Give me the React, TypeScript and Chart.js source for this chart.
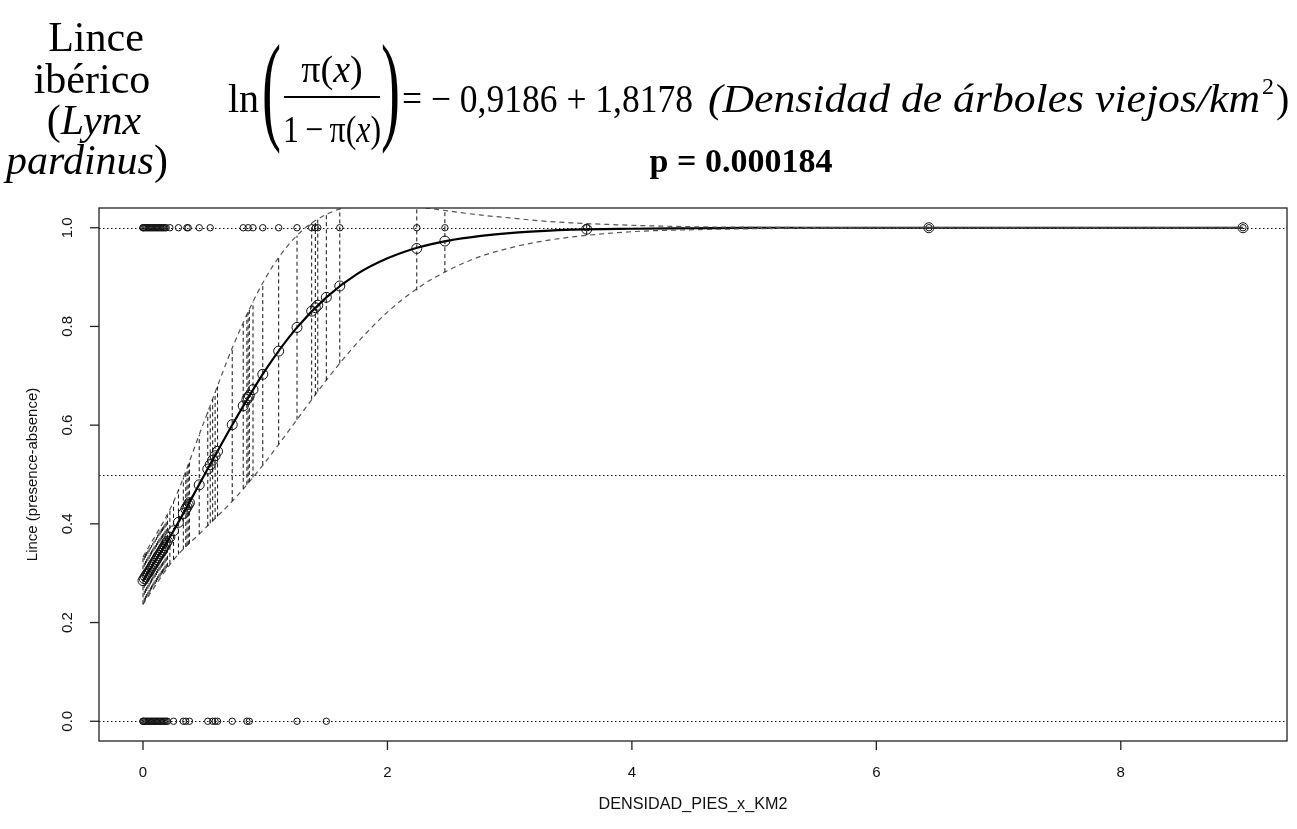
import React, { useEffect, useRef } from "react";
import { Chart, registerables } from "chart.js";

Chart.register(...registerables);

// ---- data ----
// observed densities (one fitted circle + one dashed CI segment each)
const densityX = [
  0, 0.01, 0.02, 0.03, 0.04, 0.05, 0.06, 0.07, 0.08, 0.09, 0.1, 0.11, 0.12, 0.13, 0.14, 0.15, 0.16, 0.17, 0.18, 0.19, 0.2,
  0.22, 0.25, 0.29, 0.33, 0.35, 0.36, 0.37, 0.38,
  0.46, 0.53, 0.55, 0.57, 0.59, 0.61,
  0.73, 0.82, 0.85, 0.86, 0.87, 0.9, 0.98,
  1.11, 1.26, 1.38, 1.41, 1.43, 1.5, 1.61,
  2.24, 2.47, 3.63, 6.43, 9.0,
];
const fittedProb = [
  0.285, 0.289, 0.293, 0.297, 0.3, 0.304, 0.308, 0.312, 0.316, 0.32, 0.324, 0.328, 0.332, 0.336, 0.34, 0.344, 0.348, 0.352, 0.356, 0.361, 0.365,
  0.373, 0.386, 0.403, 0.421, 0.43, 0.434, 0.439, 0.443,
  0.479, 0.511, 0.52, 0.529, 0.538, 0.547,
  0.601, 0.639, 0.652, 0.656, 0.66, 0.672, 0.703,
  0.75, 0.798, 0.831, 0.838, 0.843, 0.859, 0.882,
  0.958, 0.973, 0.997, 1.0, 1.0,
];
const upperBand = [
  0.333, 0.336, 0.34, 0.343, 0.346, 0.35, 0.353, 0.357, 0.361, 0.365, 0.369, 0.373, 0.378, 0.382, 0.387, 0.391, 0.396, 0.401, 0.406, 0.411, 0.417,
  0.427, 0.445, 0.469, 0.494, 0.507, 0.513, 0.52, 0.526,
  0.58, 0.627, 0.64, 0.653, 0.667, 0.68,
  0.756, 0.808, 0.824, 0.829, 0.835, 0.85, 0.888,
  0.939, 0.984, 1.01, 1.015, 1.018, 1.027, 1.038,
  1.043, 1.035, 1.008, 1.0, 1.0,
];
const lowerBand = [
  0.237, 0.242, 0.246, 0.25, 0.254, 0.258, 0.263, 0.267, 0.271, 0.275, 0.278, 0.282, 0.286, 0.29, 0.293, 0.297, 0.3, 0.303, 0.307, 0.31, 0.313,
  0.319, 0.327, 0.338, 0.348, 0.353, 0.356, 0.358, 0.36,
  0.379, 0.396, 0.401, 0.405, 0.41, 0.415,
  0.446, 0.471, 0.479, 0.482, 0.485, 0.494, 0.519,
  0.561, 0.611, 0.652, 0.661, 0.668, 0.691, 0.725,
  0.873, 0.91, 0.985, 1.0, 1.0,
];
// smooth fitted curve and confidence band read along the x axis
const curveX = [0, 0.25, 0.5, 0.75, 1, 1.25, 1.5, 1.75, 2, 2.25, 2.5, 2.75, 3, 3.25, 3.5, 4, 4.5, 5, 6, 7, 8, 9];
const curveFit = [0.285, 0.386, 0.498, 0.609, 0.711, 0.795, 0.859, 0.906, 0.938, 0.96, 0.974, 0.983, 0.989, 0.993, 0.996, 0.998, 0.999, 1.0, 1.0, 1.0, 1.0, 1.0];
const curveUpper = [0.333, 0.445, 0.607, 0.768, 0.897, 0.982, 1.027, 1.045, 1.047, 1.042, 1.034, 1.026, 1.02, 1.014, 1.01, 1.005, 1.002, 1.001, 1.0, 1.0, 1.0, 1.0];
const curveLower = [0.237, 0.327, 0.389, 0.451, 0.525, 0.608, 0.691, 0.766, 0.829, 0.878, 0.914, 0.941, 0.959, 0.972, 0.981, 0.992, 0.996, 0.998, 1.0, 1.0, 1.0, 1.0];

const presenceX = [
  0, 0, 0.01, 0.02, 0.03, 0.04, 0.05, 0.06, 0.07, 0.08, 0.09, 0.1, 0.11, 0.12, 0.13, 0.14, 0.15, 0.16, 0.17, 0.18, 0.19,
  0.22, 0.29, 0.36, 0.37, 0.46, 0.55, 0.82, 0.86, 0.9, 0.98, 1.11, 1.26, 1.38, 1.41, 1.43, 1.61, 2.24, 2.47, 3.63, 6.43, 9.0,
];
const absenceX = [
  0, 0, 0.01, 0.02, 0.03, 0.04, 0.05, 0.06, 0.07, 0.08, 0.09, 0.1, 0.11, 0.12, 0.13, 0.14, 0.15, 0.16, 0.17, 0.18, 0.19, 0.2,
  0.25, 0.33, 0.35, 0.38, 0.53, 0.57, 0.59, 0.61, 0.73, 0.85, 0.87, 1.26, 1.5,
];
const xTicks = [0, 2, 4, 6, 8];
const xTickLabels = ["0", "2", "4", "6", "8"];
const yTicks = [0, 0.2, 0.4, 0.6, 0.8, 1.0];
const yTickLabels = ["0.0", "0.2", "0.4", "0.6", "0.8", "1.0"];
const refLevels = [0, 0.5, 1];
const xTitle = "DENSIDAD_PIES_x_KM2";
const yTitle = "Lince (presence-absence)";
const pValueText = "p = 0.000184";

const SERIF = '"Liberation Serif", "Times New Roman", serif';
const SANS = '"Liberation Sans", Arial, sans-serif';

type Piece = { t: string; f: string };

function piecesWidth(ctx: CanvasRenderingContext2D, pieces: Piece[]) {
  let total = 0;
  for (const p of pieces) {
    ctx.font = p.f;
    total += ctx.measureText(p.t).width;
  }
  return total;
}

function drawPieces(ctx: CanvasRenderingContext2D, pieces: Piece[], cx: number, y: number, width?: number) {
  const total = piecesWidth(ctx, pieces);
  const sx = width ? width / total : 1;
  ctx.save();
  ctx.translate(cx - (total * sx) / 2, y);
  ctx.scale(sx, 1);
  ctx.textAlign = "left";
  let x = 0;
  for (const p of pieces) {
    ctx.font = p.f;
    ctx.fillText(p.t, x, 0);
    x += ctx.measureText(p.t).width;
  }
  ctx.restore();
}

function fitText(ctx: CanvasRenderingContext2D, text: string, font: string, x: number, y: number, width?: number) {
  ctx.font = font;
  const w = ctx.measureText(text).width;
  const sx = width ? width / w : 1;
  ctx.save();
  ctx.translate(x, y);
  ctx.scale(sx, 1);
  ctx.textAlign = "left";
  ctx.fillText(text, 0, 0);
  ctx.restore();
}

const decorPlugin = {
  id: "decor",
  beforeDatasetsDraw(chart: any) {
    const ctx: CanvasRenderingContext2D = chart.ctx;
    const { left, right } = chart.chartArea;
    const ys = chart.scales.y;
    ctx.save();
    ctx.strokeStyle = "#111";
    ctx.lineWidth = 1;
    ctx.setLineDash([1.5, 2.5]);
    for (const lv of refLevels) {
      const py = Math.round(ys.getPixelForValue(lv)) + 0.5;
      ctx.beginPath();
      ctx.moveTo(left, py);
      ctx.lineTo(right, py);
      ctx.stroke();
    }
    ctx.restore();
  },
  afterDraw(chart: any) {
    const ctx: CanvasRenderingContext2D = chart.ctx;
    const { left, right, top, bottom } = chart.chartArea;
    const xs = chart.scales.x;
    const ys = chart.scales.y;
    ctx.save();
    // box
    ctx.strokeStyle = "#222";
    ctx.lineWidth = 1.3;
    ctx.setLineDash([]);
    ctx.strokeRect(left, top, right - left, bottom - top);
    // x axis ticks
    ctx.fillStyle = "#111";
    ctx.font = `15px ${SANS}`;
    ctx.textAlign = "center";
    ctx.textBaseline = "middle";
    xTicks.forEach((v, i) => {
      const px = xs.getPixelForValue(v);
      ctx.beginPath();
      ctx.moveTo(px, bottom);
      ctx.lineTo(px, bottom + 9);
      ctx.stroke();
      ctx.fillText(xTickLabels[i], px, bottom + 32);
    });
    // y axis ticks
    yTicks.forEach((v, i) => {
      const py = ys.getPixelForValue(v);
      ctx.beginPath();
      ctx.moveTo(left, py);
      ctx.lineTo(left - 9, py);
      ctx.stroke();
      ctx.save();
      ctx.translate(left - 31, py);
      ctx.rotate(-Math.PI / 2);
      ctx.fillText(yTickLabels[i], 0, 0);
      ctx.restore();
    });
    // axis titles
    ctx.font = `16.2px ${SANS}`;
    ctx.fillText(xTitle, (left + right) / 2, bottom + 64);
    ctx.save();
    ctx.translate(left - 66, (top + bottom) / 2);
    ctx.rotate(-Math.PI / 2);
    ctx.font = `15px ${SANS}`;
    ctx.fillText(yTitle, 0, 0);
    ctx.restore();

    // ---- header texts ----
    ctx.fillStyle = "#000";
    ctx.textBaseline = "alphabetic";
    const regL = `42px ${SERIF}`;
    const itaL = `italic 42px ${SERIF}`;
    drawPieces(ctx, [{ t: "Lince", f: regL }], 96, 51);
    drawPieces(ctx, [{ t: "ibérico", f: regL }], 92, 93);
    drawPieces(ctx, [{ t: "(", f: regL }, { t: "Lynx", f: itaL }], 94, 134);
    drawPieces(ctx, [{ t: "pardinus", f: itaL }, { t: ")", f: regL }], 87, 174);

    // equation
    const reg = `40px ${SERIF}`;
    const ita = `italic 40px ${SERIF}`;
    const regF = `38px ${SERIF}`;
    const itaF = `italic 38px ${SERIF}`;
    fitText(ctx, "ln", reg, 228, 112);
    fitText(ctx, "(", `120px ${SERIF}`, 262, 128, 19);
    drawPieces(ctx, [{ t: "π(", f: regF }, { t: "x", f: itaF }, { t: ")", f: regF }], 332, 82);
    ctx.fillRect(284, 96, 96, 2);
    drawPieces(ctx, [{ t: "1", f: regF }, { t: "\u2009−\u2009", f: regF }, { t: "π(", f: regF }, { t: "x", f: itaF }, { t: ")", f: regF }], 332, 142, 98);
    fitText(ctx, ")", `120px ${SERIF}`, 381, 128, 19);
    fitText(ctx, "= − 0,9186 + 1,8178", reg, 402, 112, 291);
    fitText(ctx, "(Densidad de árboles viejos/km", ita, 708, 112, 552);
    fitText(ctx, "2", `24px ${SERIF}`, 1262, 94);
    fitText(ctx, ")", reg, 1276, 112);
    ctx.font = `bold 34px ${SERIF}`;
    ctx.textAlign = "center";
    ctx.fillText(pValueText, 741, 172);
    ctx.restore();
  },
};

export default function App() {
  const canvasRef = useRef<HTMLCanvasElement | null>(null);

  useEffect(() => {
    if (!canvasRef.current) return;
    const segData: { x: number; y: number | null }[] = [];
    densityX.forEach((x, i) => {
      segData.push({ x, y: lowerBand[i] }, { x, y: upperBand[i] }, { x, y: null });
    });
    const fitPts = densityX.map((x, i) => ({ x, y: fittedProb[i] }));
    const curvePts = curveX.map((x, i) => ({ x, y: curveFit[i] }));
    const upPts = curveX.map((x, i) => ({ x, y: curveUpper[i] }));
    const loPts = curveX.map((x, i) => ({ x, y: curveLower[i] }));
    const presPts = presenceX.map((x) => ({ x, y: 1 }));
    const absPts = absenceX.map((x) => ({ x, y: 0 }));

    const chart = new Chart(canvasRef.current, {
      type: "scatter",
      data: {
        datasets: [
          {
            label: "ci segments",
            data: segData as any,
            showLine: true,
            spanGaps: false,
            borderColor: "#111",
            borderWidth: 1,
            borderDash: [4, 3],
            pointRadius: 0,
          },
          {
            label: "upper",
            data: upPts,
            showLine: true,
            cubicInterpolationMode: "monotone",
            borderColor: "#555",
            borderWidth: 1.2,
            borderDash: [5, 4],
            pointRadius: 0,
          },
          {
            label: "lower",
            data: loPts,
            showLine: true,
            cubicInterpolationMode: "monotone",
            borderColor: "#555",
            borderWidth: 1.2,
            borderDash: [5, 4],
            pointRadius: 0,
          },
          {
            label: "fitted line",
            data: curvePts,
            showLine: true,
            cubicInterpolationMode: "monotone",
            borderColor: "#000",
            borderWidth: 2.2,
            pointRadius: 0,
          },
          {
            label: "fitted points",
            data: fitPts,
            showLine: false,
            borderColor: "#111",
            backgroundColor: "rgba(0,0,0,0)",
            borderWidth: 1,
            pointRadius: 5,
          },
          {
            label: "presence",
            data: presPts,
            showLine: false,
            borderColor: "#111",
            backgroundColor: "rgba(0,0,0,0)",
            borderWidth: 1,
            pointRadius: 3.2,
          },
          {
            label: "absence",
            data: absPts,
            showLine: false,
            borderColor: "#111",
            backgroundColor: "rgba(0,0,0,0)",
            borderWidth: 1,
            pointRadius: 3.2,
          },
        ],
      } as any,
      options: {
        responsive: false,
        animation: false,
        devicePixelRatio: 1,
        layout: { padding: { left: 99, top: 208, right: 10, bottom: 88 } },
        plugins: { legend: { display: false }, tooltip: { enabled: false }, title: { display: false } },
        scales: {
          x: { type: "linear", min: -0.36, max: 9.36, display: false },
          y: { type: "linear", min: -0.04, max: 1.04, display: false },
        },
      },
      plugins: [decorPlugin],
    });
    return () => chart.destroy();
  }, []);

  return (
    <div style={{ position: "absolute", left: 0, top: 0, width: 1297, height: 829, background: "#fff" }}>
      <canvas ref={canvasRef} width={1297} height={829} style={{ display: "block" }} />
    </div>
  );
}
